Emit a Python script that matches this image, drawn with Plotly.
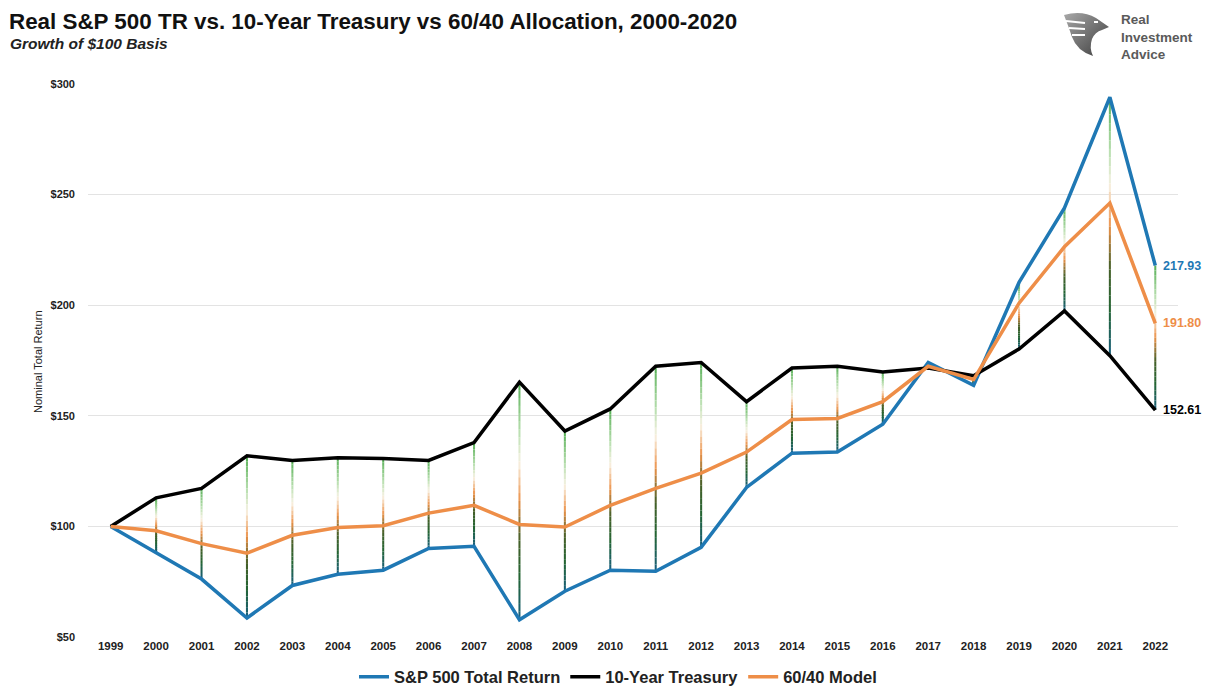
import base64
import plotly.graph_objects as go

# ---------------- data ----------------
years = [str(y) for y in range(1999, 2023)]
sp500 = [100, 88, 76.2, 58.6, 73.3, 78.4, 80.2, 90, 91, 57.8, 70.7, 80.2, 79.7, 90.5,
         117.6, 133.1, 133.6, 146.2, 174.1, 163.8, 210.3, 244, 294, 217.93]
treasury = [100, 112.9, 117.2, 131.9, 129.8, 131, 130.7, 129.8, 137.9, 165.2, 143.1, 153.1,
            172.4, 174.1, 156.4, 171.6, 172.4, 169.8, 171.6, 168.1, 180.2, 197.4, 177.2, 152.61]
model6040 = [100, 98, 92.2, 87.9, 96, 99.5, 100.3, 106, 109.5, 100.9, 99.7, 109.5, 117.2,
             124.1, 133.6, 148.3, 148.8, 156.4, 172.4, 166.4, 200.9, 226.4, 246.2, 191.80]
end_labels = ["217.93", "191.80", "152.61"]
y_ticks = [50, 100, 150, 200, 250, 300]
y_ticktext = ["$" + str(v) for v in y_ticks]

BLUE = "#1f78b4"
BLACK = "#000000"
ORANGE = "#ee8e48"
FONT = "Liberation Sans, Arial, sans-serif"

# screen geometry (page has an 8px body margin)
W, H = 1223, 697
OFF = 8
Ls, Rs, Ts, Bs = 88, 1178, 84, 637


def px(x):
    return (x - Ls) / (Rs - Ls)


def py(y):
    return (Bs - y) / (Bs - Ts)


fig = go.Figure()

# ---------------- gradient high-low lines (thin stacked bars) ----------------
stops = [(0.0, (85, 175, 85)), (0.22, (190, 225, 180)), (0.34, (248, 242, 228)),
         (0.5, (236, 146, 74)), (0.66, (70, 95, 40)), (0.82, (35, 100, 50)),
         (1.0, (25, 95, 125))]


def grad(t):
    for (t0, c0), (t1, c1) in zip(stops[:-1], stops[1:]):
        if t <= t1:
            f = (t - t0) / (t1 - t0) if t1 > t0 else 0
            return "rgb(%d,%d,%d)" % tuple(round(a + (b - a) * f) for a, b in zip(c0, c1))
    return "rgb(%d,%d,%d)" % stops[-1][1]


NSEG = 30
highs = [max(a, b, c) for a, b, c in zip(sp500, treasury, model6040)]
lows = [min(a, b, c) for a, b, c in zip(sp500, treasury, model6040)]
for k in range(NSEG):
    bases, heights = [], []
    for hi, lo in zip(highs, lows):
        step = (hi - lo) / NSEG
        bases.append(hi - step * (k + 1))
        heights.append(step)
    fig.add_trace(go.Bar(x=years, y=heights, base=bases, width=0.045, showlegend=False,
                         hoverinfo="skip", marker=dict(color=grad((k + 0.5) / NSEG),
                                                       line=dict(width=0))))

# ---------------- main series ----------------
fig.add_trace(go.Scatter(x=years, y=sp500, mode="lines", name="S&P 500 Total Return",
                         line=dict(color=BLUE, width=3.5)))
fig.add_trace(go.Scatter(x=years, y=treasury, mode="lines", name="10-Year Treasury",
                         line=dict(color=BLACK, width=3.5)))
fig.add_trace(go.Scatter(x=years, y=model6040, mode="lines", name="60/40 Model",
                         line=dict(color=ORANGE, width=3.5)))

# end labels
last = len(years) - 1
for vals, lab, col in [(sp500, end_labels[0], BLUE), (model6040, end_labels[1], ORANGE),
                       (treasury, end_labels[2], BLACK)]:
    fig.add_annotation(x=last, y=vals[-1], text=lab, showarrow=False, xanchor="left",
                       xshift=6, font=dict(family=FONT, size=12.5, color=col, weight="bold"))

# title & subtitle
fig.add_annotation(xref="paper", yref="paper", x=px(8), y=py(OFF), xanchor="left",
                   yanchor="top", showarrow=False, borderpad=0,
                   text="Real S&P 500 TR vs. 10-Year Treasury vs 60/40 Allocation, 2000-2020",
                   font=dict(family=FONT, size=22.4, color="#111111", weight="bold"))
fig.add_annotation(xref="paper", yref="paper", x=px(8), y=py(43), xanchor="left",
                   yanchor="middle", showarrow=False,
                   text="<i>Growth of $100 Basis</i>",
                   font=dict(family=FONT, size=15.5, color="#222222", weight="bold"))

# y-axis title
fig.add_annotation(xref="paper", yref="paper", x=px(38), y=py(362), xanchor="center",
                   yanchor="middle", showarrow=False, textangle=-90,
                   text="Nominal Total Return",
                   font=dict(family=FONT, size=11, color="#222222"))

# logo text
fig.add_annotation(xref="paper", yref="paper", x=px(1120), y=py(37), xanchor="left",
                   yanchor="middle", showarrow=False, align="left", borderpad=0,
                   text="Real<br>Investment<br>Advice",
                   font=dict(family=FONT, size=13.5, color="#5a5a5a", weight="bold"))

# logo emblem (SVG data uri)
svg = """<svg xmlns='http://www.w3.org/2000/svg' width='50' height='48' viewBox='0 0 50 48'>
<defs><linearGradient id='g' x1='0' y1='0' x2='1' y2='1'>
<stop offset='0' stop-color='#a8a8a8'/><stop offset='1' stop-color='#3c3c3c'/></linearGradient></defs>
<path d='M2 5 Q20 0 34 8 L47 17 L40 20 Q33 22 30 29 Q27 38 31 46 Q15 41 10 27 Q6 15 2 5Z' fill='url(#g)'/>
<path d='M4 11 L23 13 M7 18 L23 19 M10 25 L23 25' stroke='white' stroke-width='2'/>
<path d='M32 12 L36 12' stroke='white' stroke-width='2'/>
</svg>"""
src = "data:image/svg+xml;base64," + base64.b64encode(svg.encode()).decode()
fig.add_layout_image(source=src, xref="paper", yref="paper", x=px(1062), y=py(10),
                     sizex=px(1112) - px(1062), sizey=py(10) - py(58),
                     xanchor="left", yanchor="top", sizing="stretch", layer="above")

fig.update_layout(
    width=W, height=H,
    margin=dict(l=Ls - OFF, r=W - (Rs - OFF), t=Ts - OFF, b=H - (Bs - OFF), autoexpand=False),
    paper_bgcolor="white", plot_bgcolor="white",
    font=dict(family=FONT, color="#222222"),
    barmode="overlay",
    showlegend=True,
    legend=dict(orientation="h", xref="container", x=(618 - OFF) / W, xanchor="center",
                y=py(677), yanchor="middle",
                font=dict(size=16.5, color="#222222", weight="bold"), itemwidth=30),
    xaxis=dict(type="category", categoryorder="array", categoryarray=years,
               range=[-0.5, 23.5], showgrid=False, zeroline=False,
               showline=False, ticks="", tickfont=dict(size=11.5, color="#222222", weight="bold")),
    yaxis=dict(range=[50, 300], tickvals=y_ticks, ticktext=y_ticktext, showgrid=True,
               gridcolor="#e3e3e3", gridwidth=1, zeroline=False, showline=False, ticks="",
               ticklabelstandoff=12,
               tickfont=dict(size=11, color="#222222", weight="bold")),
)

fig.write_html("out.html")
